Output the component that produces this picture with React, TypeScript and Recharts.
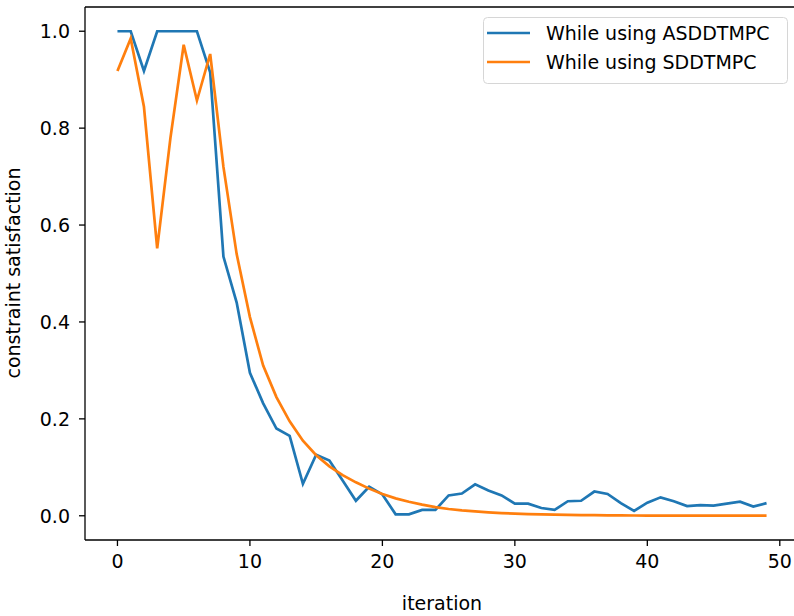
import { LineChart, Line, XAxis, YAxis, Legend, Label } from 'recharts';

const iterations = [
    0, 1, 2, 3, 4, 5, 6, 7, 8, 9,
    10, 11, 12, 13, 14, 15, 16, 17, 18, 19,
    20, 21, 22, 23, 24, 25, 26, 27, 28, 29,
    30, 31, 32, 33, 34, 35, 36, 37, 38, 39,
    40, 41, 42, 43, 44, 45, 46, 47, 48, 49
];

const asddtmpc = [
    1.0, 1.0, 0.918, 1.0, 1.0, 1.0, 1.0, 0.915, 0.535, 0.44,
    0.295, 0.232, 0.18, 0.165, 0.066, 0.126, 0.114, 0.073, 0.031, 0.06,
    0.044, 0.003, 0.003, 0.012, 0.012, 0.042, 0.046, 0.065, 0.052, 0.042,
    0.025, 0.025, 0.016, 0.012, 0.03, 0.031, 0.05, 0.045, 0.026, 0.01,
    0.027, 0.038, 0.03, 0.02, 0.022, 0.021, 0.025, 0.029, 0.019, 0.026
];

const sddtmpc = [
    0.918, 0.985, 0.844, 0.552, 0.78, 0.972, 0.857, 0.953, 0.72, 0.54,
    0.41, 0.31, 0.245, 0.195, 0.155, 0.125, 0.102, 0.084, 0.069, 0.056,
    0.045, 0.036, 0.029, 0.023, 0.018, 0.014, 0.011, 0.009, 0.007, 0.0055,
    0.0045, 0.0035, 0.003, 0.0025, 0.002, 0.0015, 0.0012, 0.001, 0.0008, 0.0006,
    0.0005, 0.0005, 0.0004, 0.0004, 0.0003, 0.0003, 0.0003, 0.0002, 0.0002, 0.0002
];

const xTicks = [0, 10, 20, 30, 40, 50];
const yTicks = [0, 0.2, 0.4, 0.6, 0.8, 1.0];

const seriesNames = ['While using ASDDTMPC', 'While using SDDTMPC'];
const colors = ['#1f77b4', '#ff7f0e'];

const data = iterations.map((it, i) => ({
    iteration: it,
    a: asddtmpc[i],
    s: sddtmpc[i],
}));

const font = 'DejaVu Sans, sans-serif';
const fontSize = 19;
const tickStyle = { fontFamily: font, fontSize: fontSize, fill: '#000' };

const LegendBox = () => (
    <svg width={306} height={68} style={{ display: 'block' }}>
        <rect x={0.5} y={0.5} width={304} height={66} rx={4} fill='#fff' stroke='#d6d6d6' />
        {seriesNames.map((name, i) => (
            <g key={i}>
                <line x1={4} x2={47} y1={16 + i * 29} y2={16 + i * 29}
                    stroke={colors[i]} strokeWidth={2.7} />
                <text x={63} y={16 + i * 29} dy='0.35em'
                    style={{ fontFamily: font, fontSize: fontSize, fill: '#000' }}>{name}</text>
            </g>
        ))}
    </svg>
);

const App = () => {
    return (
        <div style={{ position: 'absolute', left: 0, top: 0, width: 794, height: 616, overflow: 'hidden', background: '#fff' }}>
            <LineChart width={800} height={616} data={data}
                margin={{ top: 6, right: 0, left: 0, bottom: 0 }}>
                <XAxis dataKey='iteration' type='number' domain={[-2.45, 51.45]}
                    ticks={xTicks} allowDataOverflow height={76}
                    tick={tickStyle} tickSize={6} tickMargin={9}
                    stroke='#000' strokeWidth={1.3}>
                    <Label value='iteration' position='insideBottom' offset={6}
                        style={{ fontFamily: font, fontSize: fontSize, fill: '#000' }} />
                </XAxis>
                <XAxis xAxisId='top' orientation='top' dataKey='iteration' type='number'
                    domain={[-2.45, 51.45]} height={1} tick={false} tickLine={false}
                    stroke='#000' strokeWidth={1.3} />
                <YAxis type='number' domain={[-0.05, 1.05]} ticks={yTicks} allowDataOverflow
                    width={85} tick={tickStyle} tickSize={6} tickMargin={9}
                    tickFormatter={(v: number) => v.toFixed(1)}
                    stroke='#000' strokeWidth={1.3}>
                    <Label content={() => (
                        <text x={13} y={273} textAnchor='middle' dominantBaseline='central'
                            transform='rotate(-90 13 273)'
                            style={{ fontFamily: font, fontSize: fontSize, fill: '#000' }}>
                            constraint satisfaction
                        </text>
                    )} />
                </YAxis>
                <YAxis yAxisId='right' orientation='right' type='number' domain={[-0.05, 1.05]}
                    width={1} tick={false} tickLine={false} stroke='#000' strokeWidth={1.3} />
                <Legend content={<LegendBox />} verticalAlign='middle' align='center'
                    wrapperStyle={{ position: 'absolute', left: 483, top: 17, width: 306, height: 68 }} />
                <Line type='linear' dataKey='a' name={seriesNames[0]} stroke={colors[0]}
                    strokeWidth={2.7} dot={false} isAnimationActive={false} />
                <Line type='linear' dataKey='s' name={seriesNames[1]} stroke={colors[1]}
                    strokeWidth={2.7} dot={false} isAnimationActive={false} />
            </LineChart>
        </div>
    );
};

export default App;
